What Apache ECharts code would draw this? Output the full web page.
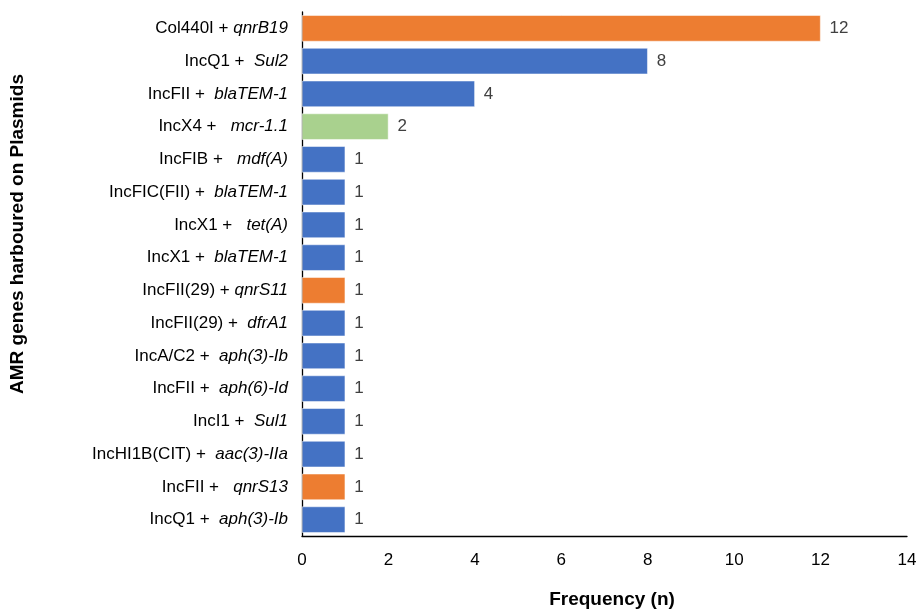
<!DOCTYPE html>
<html>
<head>
<meta charset="utf-8">
<script src="https://cdn.jsdelivr.net/npm/echarts@6/dist/echarts.min.js"></script>
<style>html,body{margin:0;padding:0;background:#fff}#c{width:921px;height:609px}</style>
</head>
<body>
<div id="c"></div>
<script>
// Data (top to bottom)
const plasmids = ["Col440I +", "IncQ1 +", "IncFII +", "IncX4 +", "IncFIB +", "IncFIC(FII) +", "IncX1 +", "IncX1 +", "IncFII(29) +", "IncFII(29) +", "IncA/C2 +", "IncFII +", "IncI1 +", "IncHI1B(CIT) +", "IncFII +", "IncQ1 +"];
const genes = [" qnrB19", "  Sul2", "  blaTEM-1", "   mcr-1.1", "   mdf(A)", "  blaTEM-1", "   tet(A)", "  blaTEM-1", " qnrS11", "  dfrA1", "  aph(3)-Ib", "  aph(6)-Id", "  Sul1", "  aac(3)-IIa", "   qnrS13", "  aph(3)-Ib"];
const frequency = [12, 8, 4, 2, 1, 1, 1, 1, 1, 1, 1, 1, 1, 1, 1, 1];
const geneClass = ["quinolone", "other", "other", "colistin", "other", "other", "other", "other", "quinolone", "other", "other", "other", "other", "other", "quinolone", "other"];
const xTicks = [0, 2, 4, 6, 8, 10, 12, 14];
const classColors = { other: "#4472C4", quinolone: "#ED7D31", colistin: "#A9D18E" };

const categories = plasmids.map((p, i) => i);
const chart = echarts.init(document.getElementById('c'), null, { renderer: 'canvas' });
const font = "Liberation Sans, Arial, sans-serif";
chart.setOption({
  animation: false,
  grid: { left: 302, right: 14, top: 12, bottom: 73, containLabel: false },
  xAxis: {
    type: 'value', min: xTicks[0], max: xTicks[xTicks.length - 1], interval: 2,
    axisLine: { show: true, lineStyle: { color: '#000', width: 1.3 } },
    axisTick: { show: false },
    splitLine: { show: false },
    axisLabel: { color: '#000', fontSize: 17, fontFamily: font, margin: 16 }
  },
  yAxis: {
    type: 'category', data: categories, inverse: true,
    axisLine: { show: true, lineStyle: { color: '#000', width: 1.3 } },
    axisTick: { show: false },
    axisLabel: {
      margin: 14, fontFamily: font,
      formatter: (v) => '{p|' + plasmids[v] + '}{g|' + genes[v] + '}',
      rich: {
        p: { fontSize: 17, color: '#000', fontFamily: font },
        g: { fontSize: 17, color: '#000', fontStyle: 'italic', fontFamily: font }
      }
    }
  },
  series: [{
    type: 'bar',
    barCategoryGap: '20%',
    data: frequency.map((v, i) => ({ value: v, itemStyle: { color: classColors[geneClass[i]] } })),
    itemStyle: { borderColor: '#fff', borderWidth: 0.5 },
    label: { show: true, position: 'right', distance: 9, color: '#404040', fontSize: 17, fontFamily: font }
  }],
  graphic: [
    { type: 'text', x: 612, y: 600, style: { text: 'Frequency (n)', fontSize: 19, fontWeight: 'bold', fontFamily: font, fill: '#000', align: 'center', verticalAlign: 'middle' } },
    { type: 'text', x: 18, y: 234, rotation: Math.PI / 2, style: { text: 'AMR genes harboured on Plasmids', fontSize: 19, fontWeight: 'bold', fontFamily: font, fill: '#000', align: 'center', verticalAlign: 'middle' } }
  ]
});
</script>
</body>
</html>
